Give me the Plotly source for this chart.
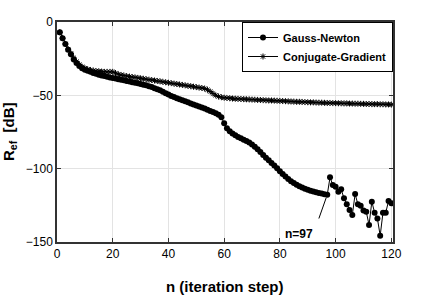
import plotly.graph_objects as go

# ---- data ----
gn_n = list(range(1, 121))
gn_db = [
    -7, -11, -15, -19, -22, -25.5, -28, -30, -31.5, -32.5,
    -33.3, -34, -34.7, -35.3, -35.9, -36.4, -36.9, -37.4, -37.8, -38.2,
    -38.6, -39, -39.4, -39.8, -40.2, -40.6, -41, -41.4, -41.8, -42.2,
    -42.7, -43.2, -43.8, -44.4, -45.1, -45.8, -46.6, -47.5, -48.5, -49.5,
    -50.4, -51.2, -52, -52.7, -53.4, -54.1, -54.8, -55.5, -56.2, -56.9,
    -57.6, -58.3, -59, -59.8, -60.6, -61.4, -62.3, -63.3, -65, -69,
    -72.5, -74.5, -76, -77.3, -78.4, -79.3, -80.2, -81.1, -82.2, -83.5,
    -85, -86.8, -88.7, -90.6, -92.5, -94.3, -96.1, -97.9, -99.8, -101.7,
    -103.6, -105.4, -107, -108.5, -109.8, -111, -112, -112.9, -113.7, -114.4,
    -115, -115.6, -116.1, -116.6, -117, -117.4, -117.8, -105.9, -111.1, -112.3,
    -115.7, -114.1, -120.2, -124.3, -128.2, -131.6, -117.3, -124.3, -125.2, -128.6,
    -129.3, -138.4, -122.5, -130, -133.9, -145.7, -130, -130, -122, -123.6,
]

cg_n = list(range(1, 121))
cg_db = [
    -7, -11, -15, -18.5, -21.5, -24.5, -27, -29, -30.5, -31.5,
    -32.2, -32.7, -33.1, -33.4, -33.6, -33.8, -34, -34, -34, -34,
    -34.8, -35.6, -36.1, -36.5, -36.9, -37.2, -37.5, -37.8, -38.1, -38.4,
    -38.7, -39, -39.3, -39.6, -39.9, -40.2, -40.5, -40.8, -41.1, -41.4,
    -41.7, -42, -42.3, -42.6, -42.9, -43.2, -43.5, -43.8, -44.1, -44.4,
    -44.7, -45, -45.4, -46.2, -47.4, -48.8, -50, -50.8, -51.3, -51.6,
    -51.8, -52, -52.2, -52.3, -52.4, -52.5, -52.6, -52.7, -52.8, -52.9,
    -53, -53.1, -53.2, -53.3, -53.4, -53.5, -53.5, -53.6, -53.7, -53.8,
    -53.9, -54, -54.1, -54.2, -54.3, -54.4, -54.4, -54.5, -54.6, -54.7,
    -54.8, -54.8, -54.9, -55, -55, -55.1, -55.2, -55.2, -55.3, -55.3,
    -55.4, -55.4, -55.5, -55.5, -55.6, -55.6, -55.7, -55.7, -55.8, -55.8,
    -55.9, -55.9, -56, -56, -56, -56.1, -56.1, -56.2, -56.2, -56.3,
]

x_ticks = [0, 20, 40, 60, 80, 100, 120]
y_ticks = [0, -50, -100, -150]

annot_n, annot_db = 97, -117.8
annot_text = "n=97"
x_title = "n (iteration step)"
y_title = "R<sub>ef</sub>  [dB]"

FONT = "Liberation Sans, Arial, sans-serif"

fig = go.Figure()
fig.add_trace(go.Scatter(
    x=gn_n, y=gn_db, name="<b>Gauss-Newton</b>", mode="lines+markers",
    line=dict(color="black", width=1),
    marker=dict(symbol="circle", size=6, color="black"),
))
fig.add_trace(go.Scatter(
    x=cg_n, y=cg_db, name="<b>Conjugate-Gradient</b>", mode="lines+markers",
    line=dict(color="black", width=1),
    marker=dict(symbol="asterisk-open", size=5, color="black",
                line=dict(color="black", width=1)),
))

fig.add_annotation(
    x=annot_n, y=annot_db, ax=93.8, ay=-135, axref="x", ayref="y",
    text="", showarrow=True, arrowhead=0, arrowwidth=1, arrowcolor="black",
    standoff=3,
)
fig.add_annotation(
    x=87, y=-144.5, xref="x", yref="y", text="<b>" + annot_text + "</b>",
    showarrow=False, font=dict(family=FONT, size=12, color="black"),
)
# axis titles
fig.add_annotation(
    x=0.5, y=0, xref="paper", yref="paper", yshift=-44, yanchor="middle",
    text="<b>" + x_title + "</b>", showarrow=False,
    font=dict(family=FONT, size=15, color="black"),
)
fig.add_annotation(
    x=0, y=0.5, xref="paper", yref="paper", xshift=-48, xanchor="center",
    text="<b>" + y_title + "</b>", showarrow=False, textangle=-90,
    font=dict(family=FONT, size=15, color="black"),
)

axis_common = dict(
    showline=True, linecolor="#333333", linewidth=1.5, mirror="ticks",
    ticks="inside", ticklen=4, tickcolor="#333333", automargin=False,
    showgrid=True, gridcolor="#e3e3e3", gridwidth=1, zeroline=False,
    tickfont=dict(family=FONT, size=12, color="black"),
)

fig.update_layout(
    width=436, height=300,
    margin=dict(l=57, r=43, t=22, b=58, autoexpand=False),
    paper_bgcolor="white", plot_bgcolor="white",
    font=dict(family=FONT, color="black"),
    xaxis=dict(range=[0, 120.6], tickvals=x_ticks, **axis_common),
    yaxis=dict(range=[-150, 0], tickvals=y_ticks, **axis_common),
    legend=dict(x=1, y=1, xanchor="right", yanchor="top",
                bgcolor="white", bordercolor="black", borderwidth=1,
                font=dict(family=FONT, size=11, color="black"),
                itemwidth=30, tracegroupgap=0),
    showlegend=True,
)

fig.write_html(
    "out.html",
    config={"displayModeBar": False},
    post_script="document.body.style.margin='0';document.body.style.overflow='hidden';",
)
